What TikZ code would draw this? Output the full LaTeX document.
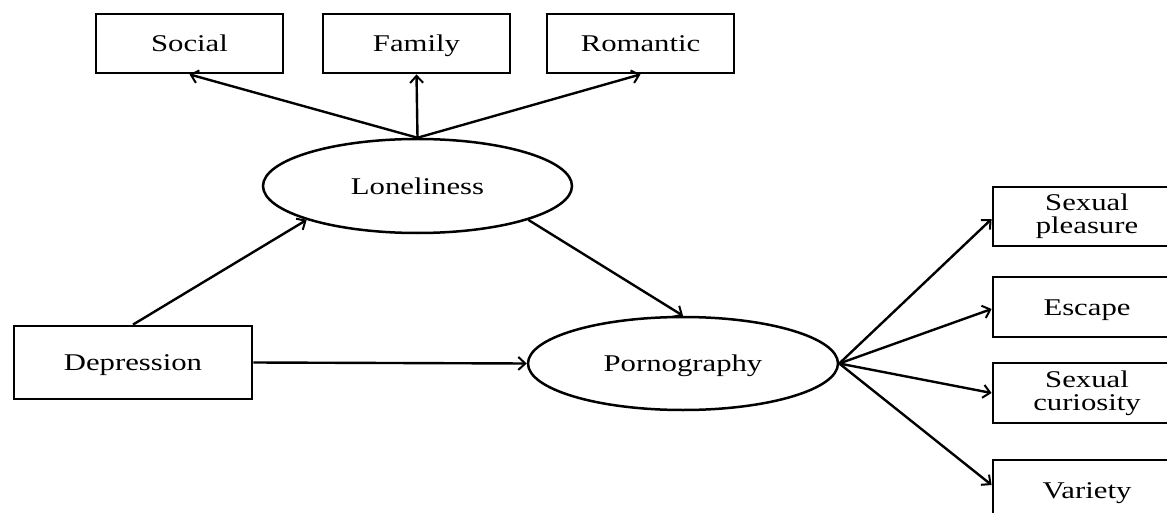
\documentclass[tikz,border=0pt]{standalone}
\usepackage{fontspec}
\setmainfont[FakeStretch=1.28]{Liberation Serif}
\usetikzlibrary{shapes.geometric,arrows.meta}
\begin{document}
\begin{tikzpicture}[x=1pt,y=-1pt,
  box/.style={draw,line width=2.8pt,rectangle,inner sep=0pt,align=center,
    font=\fontsize{24}{23}\selectfont},
  single/.style={text height=20pt,text depth=4pt},
  oval/.style={draw,line width=2.5pt,ellipse,inner sep=0pt,
    text height=20pt,text depth=3.5pt,font=\fontsize{24}{24}\selectfont},
  arr/.style={line width=2.4pt,-{Straight Barb[length=7pt,width=13pt,line width=2pt]}}]
\useasboundingbox (0,0) rectangle (1167,513);
\clip (0,0) rectangle (1167,513);
\node[box,single,minimum width=187pt,minimum height=59pt] (S) at (189.5,43.5) {Social};
\node[box,single,minimum width=187pt,minimum height=59pt] (F) at (416.5,43.5) {Family};
\node[box,single,minimum width=187pt,minimum height=59pt] (R) at (640.5,43.5) {Romantic};
\node[oval,minimum width=309pt,minimum height=94pt] (L) at (417.5,186) {Loneliness};
\node[box,single,minimum width=238pt,minimum height=73pt] (D) at (133,362.5) {Depression};
\node[oval,minimum width=310pt,minimum height=93pt] (P) at (683,363.5) {Pornography};
\node[box,minimum width=188pt,minimum height=59pt] (SP) at (1087,216.5) {Sexual\\pleasure};
\node[box,single,minimum width=188pt,minimum height=60pt] (E) at (1087,307) {Escape};
\node[box,minimum width=188pt,minimum height=60pt] (SC) at (1087,393) {Sexual\\curiosity};
\node[box,single,minimum width=188pt,minimum height=60pt] (V) at (1087,490) {Variety};
\draw[arr] (L.north) -- (S.south);
\draw[arr] (L.north) -- (F.south);
\draw[arr] (L.north) -- (R.south);
\draw[arr] (D.north) -- (L.197);
\draw[arr] (L.-17) -- (P.north);
\draw[arr] (D.east) -- (P.west);
\draw[arr] (P.east) -- ([yshift=-2.5pt]SP.west);
\draw[arr] (P.east) -- ([yshift=-2pt]E.west);
\draw[arr] (P.east) -- (SC.west);
\draw[arr] (P.east) -- ([yshift=5pt]V.west);
\end{tikzpicture}
\end{document}
